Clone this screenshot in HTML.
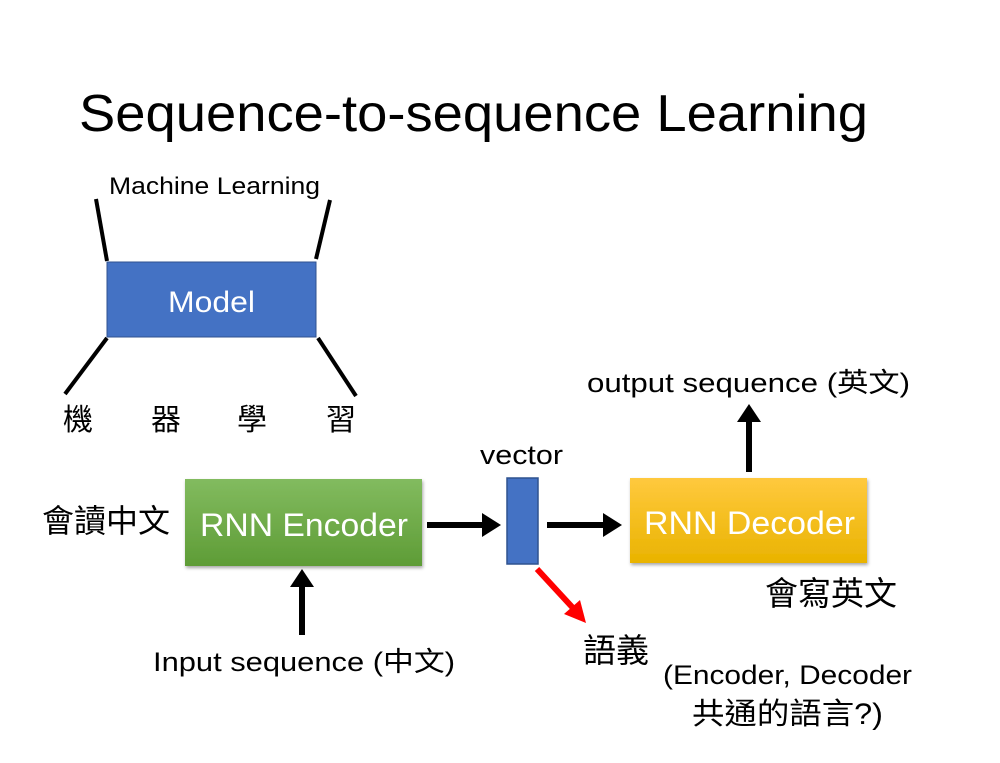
<!DOCTYPE html>
<html><head><meta charset="utf-8"><style>
body{margin:0;background:#fff}
svg text{font-family:"Liberation Sans","Noto Sans CJK TC",sans-serif}
</style></head><body>
<svg width="1000" height="758" viewBox="0 0 1000 758" xmlns="http://www.w3.org/2000/svg">
<defs>
<linearGradient id="g" x1="0" y1="0" x2="0" y2="1"><stop offset="0" stop-color="#82bb5f"/><stop offset="1" stop-color="#5e9c36"/></linearGradient>
<linearGradient id="y" x1="0" y1="0" x2="0" y2="1"><stop offset="0" stop-color="#ffc93e"/><stop offset="1" stop-color="#e9b300"/></linearGradient>
<filter id="s"><feDropShadow dx="1" dy="2" stdDeviation="1.5" flood-opacity="0.35"/></filter>
</defs>
<text x="79" y="131" font-size="52" textLength="789" lengthAdjust="spacingAndGlyphs">Sequence-to-sequence Learning</text>
<text x="109" y="194" font-size="24" textLength="211" lengthAdjust="spacingAndGlyphs">Machine Learning</text>
<g stroke="#000" stroke-width="4">
<line x1="96" y1="199" x2="107" y2="261"/><line x1="330" y1="200" x2="316" y2="259"/>
<line x1="107" y1="338" x2="65" y2="394"/><line x1="318" y1="338" x2="356" y2="396"/>
</g>
<rect x="107" y="262" width="209" height="75" fill="#4472c4" stroke="#2f528f"/>
<text x="168" y="312" font-size="30" fill="#fff" textLength="87" lengthAdjust="spacingAndGlyphs">Model</text>
<g font-size="30"><text x="63" y="430">機</text><text x="151" y="430">器</text><text x="237" y="430">學</text><text x="326" y="430">習</text></g>
<text x="42" y="532" font-size="32">會讀中文</text>
<rect x="185" y="479" width="237" height="87" fill="url(#g)" filter="url(#s)"/>
<text x="200" y="536" font-size="32" fill="#fff" textLength="208" lengthAdjust="spacingAndGlyphs">RNN Encoder</text>
<text x="480" y="464" font-size="27" textLength="83" lengthAdjust="spacingAndGlyphs">vector</text>
<rect x="507" y="478" width="31" height="86" fill="#4472c4" stroke="#2f528f" stroke-width="1.5"/>
<rect x="630" y="478" width="237" height="85" fill="url(#y)" filter="url(#s)"/>
<text x="644" y="534" font-size="32" fill="#fff" textLength="211" lengthAdjust="spacingAndGlyphs">RNN Decoder</text>
<g stroke="#000" stroke-width="6">
<line x1="427" y1="525" x2="484" y2="525"/><line x1="547" y1="525" x2="605" y2="525"/>
<line x1="749" y1="472" x2="749" y2="420"/><line x1="302" y1="635" x2="302" y2="585"/>
</g>
<polygon points="482,513 501,525 482,537" fill="#000"/>
<polygon points="603,513 622,525 603,537" fill="#000"/>
<polygon points="737,422 749,404 761,422" fill="#000"/>
<polygon points="290,587 302,569 314,587" fill="#000"/>
<line x1="537" y1="569" x2="573" y2="608" stroke="#f00" stroke-width="6"/>
<polygon points="564,614 586,623 580,600" fill="#f00"/>
<text x="587" y="392" font-size="27" textLength="323" lengthAdjust="spacingAndGlyphs">output sequence (英文)</text>
<text x="765" y="605" font-size="33">會寫英文</text>
<text x="153" y="671" font-size="27" textLength="302" lengthAdjust="spacingAndGlyphs">Input sequence (中文)</text>
<text x="583" y="662" font-size="33">語義</text>
<text x="663" y="684" font-size="27" textLength="249" lengthAdjust="spacingAndGlyphs">(Encoder, Decoder</text>
<text x="692" y="724" font-size="30" textLength="191" lengthAdjust="spacingAndGlyphs">共通的語言?)</text>
</svg>
</body></html>
